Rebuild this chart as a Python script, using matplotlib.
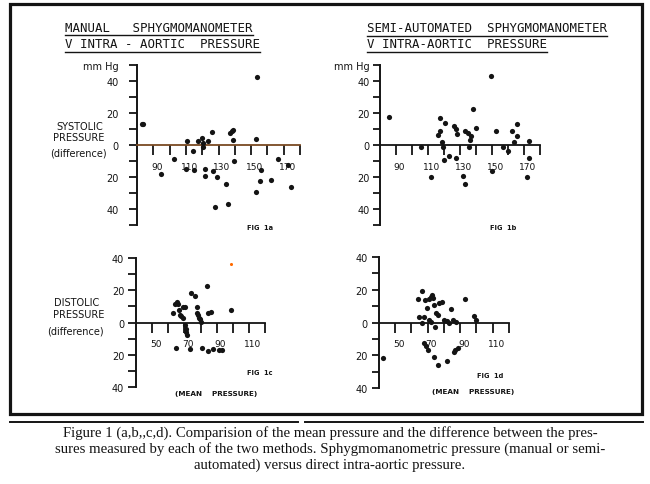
import matplotlib
matplotlib.use('Agg')
import matplotlib.pyplot as plt
from matplotlib.lines import Line2D
from matplotlib.patches import Rectangle
from matplotlib.transforms import ScaledTranslation

# Fig 1a - systolic, manual sphygmomanometer v intra-aortic
sys_manual_x = [83.0, 83.8, 94.7, 102.9, 110.7, 110.3, 114.2, 114.8, 117.3, 119.8, 120.2, 120.5,
                121.8, 121.8, 123.5, 126.1, 126.6, 128.0, 129.0, 134.4, 136.0, 136.8, 138.2, 138.9,
                138.9, 139.7, 152.8, 153.2, 153.7, 155.3, 156.3, 162.1, 166.2, 172.8, 174.4]
sys_manual_y = [13.0, 13.3, -17.9, -8.6, 2.3, -14.8, -3.5, -15.8, 2.3, 4.1, 1.5, -1.0,
                -14.8, -19.3, 2.7, 8.4, -16.4, -38.6, -19.7, -24.6, -37.0, 7.4, 8.6, 9.2,
                3.3, -9.9, 3.7, -29.2, 42.4, -22.6, -15.8, -21.6, -8.6, -12.7, -26.0]

# Fig 1b - systolic, semi-automated
sys_semi_x = [85.5, 105.6, 111.9, 116.0, 117.5, 117.7, 118.8, 119.2, 120.2, 120.8, 123.3, 126.0,
              127.5, 127.9, 127.5, 131.7, 133.3, 133.3, 134.8, 135.4, 136.3, 137.0, 138.3, 140.0,
              149.6, 150.0, 152.5, 157.0, 159.8, 162.5, 164.0, 165.4, 165.6, 172.9, 172.9, 171.9]
sys_semi_y = [17.5, -1.0, -20.2, 6.3, 16.9, 8.5, 1.7, -1.5, -9.2, 13.8, -6.7, 11.7,
              10.0, 6.9, -8.1, -19.2, -24.4, 9.0, 7.5, -1.0, 3.3, 5.8, 22.5, 10.8,
              42.9, -16.0, 8.5, -1.0, -4.0, 8.7, 2.0, 13.0, 5.8, 2.5, -8.1, -19.8]

# Fig 1c - diastolic, manual
dia_manual_x = [63.1, 64.2, 65.2, 66.3, 66.7, 67.3, 68.0, 69.4, 70.2, 69.4, 70.6, 70.8, 71.2,
                71.6, 74.0, 76.5, 78.1, 77.7, 78.5, 79.2, 79.8, 80.6, 84.4, 86.5, 83.8, 99.0,
                65.0, 73.3, 81.2, 84.4, 87.5, 91.7, 93.1]
dia_manual_y = [5.6, 11.5, 12.9, 11.3, 7.7, 4.6, 3.8, 9.8, 9.8, 2.5, -1.7, -3.8, -5.8,
                -7.9, 18.1, 16.5, 9.8, 6.0, 4.6, 3.1, 1.9, 0.4, 5.6, 6.3, 22.9, 7.7,
                -15.6, -16.7, -15.6, -17.7, -16.3, -16.9, -17.3]

# Fig 1d - diastolic, semi-automated
dia_semi_x = [42.6, 63.8, 64.4, 66.5, 66.5, 67.9, 68.6, 69.4, 70.6, 71.8, 72.8, 73.4, 70.6,
              72.0, 74.1, 75.2, 76.2, 74.7, 77.2, 78.9, 80.3, 81.8, 83.0, 84.4, 85.5, 87.5,
              92.7, 98.2, 99.9, 67.9, 69.0, 70.0, 74.0, 76.6, 81.8, 85.9, 87.0, 88.6]
dia_semi_y = [-21.9, 14.4, 3.1, 19.0, -0.2, 3.1, 13.8, 8.7, 14.5, 15.5, 16.5, 15.0, 1.4,
              0.4, 10.7, 5.6, 4.5, -2.7, 11.8, 12.8, 1.4, 1.0, -0.2, 8.0, 1.4, 0.4,
              14.4, 4.1, 1.4, -12.6, -14.5, -16.6, -20.8, -26.0, -23.3, -18.0, -17.0, -15.5]

# orange speck on the scan (fig 1c)
speck_x = [99.0]
speck_y = [36.0]

sys_xticks = [90, 100, 110, 120, 130, 140, 150, 160, 170, 180]
sys_xlabels = ['90', '', '110', '', '130', '', '150', '', '170', '']
dia_xticks = [50, 60, 70, 80, 90, 100, 110, 120]
dia_xlabels = ['50', '', '70', '', '90', '', '110', '']
sys_yticks = [-50, -40, -30, -20, -10, 0, 10, 20, 30, 40, 50]
sys_ylabels = ['', '40', '', '20', '', '0', '', '20', '', '40', 'mm Hg']
dia_yticks = [-40, -30, -20, -10, 0, 10, 20, 30, 40]
dia_ylabels = ['40', '', '20', '', '0', '', '20', '', '40']

W, H = 650, 485
fig = plt.figure(figsize=(W / 100, H / 100), dpi=100)
fig.patch.set_facecolor('white')
INK = '#141414'


def text(x, y, s, **kw):
    # x, y in pixels from the top-left corner
    return fig.text(x / W, 1 - y / H, s, color=INK, **kw)


def panel(box, xs, ys, xlim, ylim, xticks, xlabels, yticks, ylabels,
          ypad, ylen, zero_color=INK):
    left, top, right, bottom = box
    ax = fig.add_axes([left / W, 1 - bottom / H, (right - left) / W, (bottom - top) / H])
    ax.set_facecolor('none')
    ax.scatter(xs, ys, s=14, color=INK, linewidths=0, zorder=3, clip_on=False)
    ax.set_xlim(xlim)
    ax.set_ylim(ylim)
    ax.spines[['top', 'right']].set_visible(False)
    ax.spines['left'].set_linewidth(1.4)
    ax.spines['left'].set_color(INK)
    ax.spines['bottom'].set_position(('data', 0))
    ax.spines['bottom'].set_linewidth(1.3)
    ax.spines['bottom'].set_color(zero_color)
    ax.set_xticks(xticks, xlabels)
    ax.set_yticks(yticks, ylabels)
    ax.tick_params(axis='x', direction='out', length=7.5, width=1.3, color=INK,
                   pad=4.5, labelsize=6.5, labelcolor=INK)
    ax.tick_params(axis='y', direction='out', length=ylen, width=1.3, color=INK,
                   pad=ypad, labelsize=7, labelcolor=INK)
    for lab in ax.get_xticklabels():
        lab.set_transform(lab.get_transform() + ScaledTranslation(2.5 / 72, 0, fig.dpi_scale_trans))
    return ax


panel((137, 66, 300, 226), sys_manual_x, sys_manual_y, (80, 180), (-50, 50),
      sys_xticks, sys_xlabels, sys_yticks, sys_ylabels, 7, 6, zero_color='#7a4a22')
panel((380, 66, 540, 226), sys_semi_x, sys_semi_y, (80, 180), (-50, 50),
      sys_xticks, sys_xlabels, sys_yticks, sys_ylabels, 2.5, 5)
ax_c = panel((136, 259, 265, 388), dia_manual_x, dia_manual_y, (40, 120), (-40, 40),
             dia_xticks, dia_xlabels, dia_yticks, dia_ylabels, 3, 5.5)
ax_c.scatter(speck_x, speck_y, s=5, color='#ff6a00', linewidths=0)
panel((379, 258, 509, 389), dia_semi_x, dia_semi_y, (40, 120), (-40, 40),
      dia_xticks, dia_xlabels, dia_yticks, dia_ylabels, 3, 5)

# hand-lettered headings, underlined
mono = dict(family='DejaVu Sans Mono', fontsize=8.9, va='center', ha='left')
heads = [
    text(65, 28, 'MANUAL   SPHYGMOMANOMETER', **mono),
    text(65, 45, 'V INTRA - AORTIC  PRESSURE', **mono),
    text(367, 29, 'SEMI-AUTOMATED  SPHYGMOMANOMETER', **mono),
    text(367, 45, 'V INTRA-AORTIC  PRESSURE', **mono),
]

side = dict(family='DejaVu Sans', fontsize=7, va='center', ha='center')
text(80, 127, 'SYSTOLIC', **side)
text(79, 138, 'PRESSURE', **side)
text(78, 154, '(difference)', **side)
text(77, 303, 'DISTOLIC', **side)
text(79, 315, 'PRESSURE', **side)
text(75, 332, '(difference)', **side)

small = dict(family='DejaVu Sans', fontsize=4.8, fontweight='bold', va='center', ha='left')
text(247, 228, 'FIG  1a', **small)
text(490, 228, 'FIG  1b', **small)
text(247, 373, 'FIG  1c', **small)
text(477, 376, 'FIG  1d', **small)
text(216, 394, '(MEAN    PRESSURE)', family='DejaVu Sans', fontsize=5.2,
     fontweight='bold', va='center', ha='center')
text(473, 392, '(MEAN    PRESSURE)', family='DejaVu Sans', fontsize=5.2,
     fontweight='bold', va='center', ha='center')

# frame round the figure and rule under it
fig.add_artist(Rectangle((10 / W, 1 - 415 / H), 632 / W, 410 / H, fill=False,
                         lw=2.3, edgecolor=INK, transform=fig.transFigure))
fig.add_artist(Line2D([10 / W, 298 / W], [1 - 423 / H] * 2, lw=1.4, color=INK,
                      transform=fig.transFigure))
fig.add_artist(Line2D([305 / W, 643 / W], [1 - 423 / H] * 2, lw=1.4, color=INK,
                      transform=fig.transFigure))

cap = dict(family='Liberation Serif', fontsize=10.6, va='center', ha='center')
text(330, 433, 'Figure 1 (a,b,,c,d). Comparision of the mean pressure and the difference between the pres-', **cap)
text(330, 449, 'sures measured by each of the two methods. Sphygmomanometric pressure (manual or semi-', **cap)
text(330, 465, 'automated) versus direct intra-aortic pressure.', **cap)

# underline the headings using their drawn extent
fig.canvas.draw()
r = fig.canvas.get_renderer()
for t in heads:
    bb = t.get_window_extent(r)
    yl = (bb.y0 - 1.5) / H
    fig.add_artist(Line2D([bb.x0 / W, bb.x1 / W], [yl, yl], lw=1.0, color=INK,
                          transform=fig.transFigure))

fig.savefig('out.png', dpi=100)
